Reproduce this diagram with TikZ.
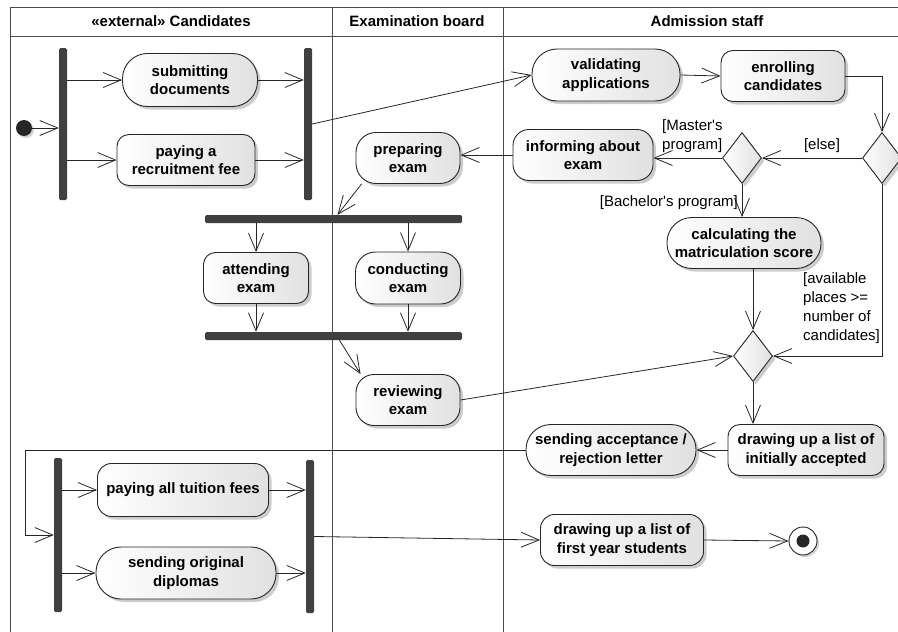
\documentclass[tikz,border=0pt]{standalone}
\usepackage{fontspec}
\setmainfont{Liberation Sans}[Ligatures=TeXOff]
\usetikzlibrary{arrows.meta, shapes.geometric, shadows}

\begin{document}
\begin{tikzpicture}[x=1pt, y=-1pt,
    flow/.style={draw=black!85, line width=0.8pt, -{Straight Barb[length=18pt, width=15pt, line width=0.8pt]}},
    act/.style={draw=black!85, line width=0.9pt, rounded corners=12pt, align=center, inner sep=0pt,
        font=\bfseries\fontsize{15}{18.5}\selectfont, left color=white, right color=black!12,
        drop shadow={shadow xshift=3pt, shadow yshift=-3pt, fill=black!40}},
    actround/.style={act, rounded corners=25pt},
    bar/.style={fill=black!75, rounded corners=1.5pt, inner sep=0pt},
    decision/.style={diamond, draw=black!85, line width=0.9pt, inner sep=0pt, minimum width=39pt, minimum height=51pt,
        left color=white, right color=black!12, drop shadow={shadow xshift=3pt, shadow yshift=-3pt, fill=black!40}},
    guard/.style={font=\fontsize{15}{19}\selectfont, inner sep=0pt},
    lane/.style={draw=black!70, line width=1pt},
    lanehead/.style={font=\bfseries\fontsize{15}{18}\selectfont}]
    \useasboundingbox (0,0) rectangle (898,632);

    \draw[lane] (10,632) -- (10,7) -- (911,7) -- (911,632);
    \draw[lane] (10,36) -- (911,36);
    \draw[lane] (332,7) -- (332,632);
    \draw[lane] (503,7) -- (503,632);
    \node[lanehead] (hcand) at (171,21) {«external» Candidates};
    \node[lanehead] (hboard) at (417,21) {Examination board};
    \node[lanehead] (hstaff) at (707,21) {Admission staff};

    \node[circle, fill=black!85, minimum size=16pt, inner sep=0pt, drop shadow={shadow xshift=2pt, shadow yshift=-2pt, fill=black!35}] (start) at (24,128) {};
    \node[bar, minimum width=8pt, minimum height=152pt] (fork1) at (63,124) {};
    \node[bar, minimum width=8pt, minimum height=152pt] (join1) at (308,124) {};
    \node[actround, minimum width=135pt, minimum height=53pt] (submit) at (190,80) {submitting\\documents};
    \node[act, minimum width=138pt, minimum height=51pt] (pay) at (186,160) {paying a\\recruitment fee};

    \node[actround, minimum width=148pt, minimum height=52pt] (valid) at (606,75) {validating\\applications};
    \node[act, minimum width=124pt, minimum height=51pt] (enrol) at (783,76) {enrolling\\candidates};
    \node[decision] (dec2) at (882,158) {};
    \node[decision] (dec1) at (742,158) {};
    \node[act, rounded corners=16pt, minimum width=140pt, minimum height=51pt] (inform) at (583,155) {informing about\\exam};
    \node[act, rounded corners=20pt, minimum width=104pt, minimum height=51pt] (prep) at (408,158) {preparing\\exam};
    \node[actround, minimum width=154pt, minimum height=51pt] (calc) at (744,243) {calculating the\\matriculation score};
    \node[decision] (dec3) at (753,356) {};

    \node[bar, minimum width=257pt, minimum height=8pt] (fork2) at (333.5,219) {};
    \node[bar, minimum width=257pt, minimum height=8pt] (join2) at (333.5,336) {};
    \node[act, minimum width=105pt, minimum height=51pt] (attend) at (256,278) {attending\\exam};
    \node[act, rounded corners=20pt, minimum width=105pt, minimum height=52pt] (conduct) at (408,278) {conducting\\exam};
    \node[act, rounded corners=18pt, minimum width=104pt, minimum height=51pt] (review) at (408,400) {reviewing\\exam};

    \node[actround, minimum width=170pt, minimum height=51pt] (send) at (611,450) {sending acceptance /\\rejection letter};
    \node[act, minimum width=156pt, minimum height=51pt] (init) at (806,450) {drawing up a list of\\initially accepted};

    \node[bar, minimum width=8pt, minimum height=154pt] (fork3) at (58,535) {};
    \node[bar, minimum width=8pt, minimum height=153pt] (join3) at (310,536.5) {};
    \node[act, rounded corners=14pt, minimum width=171pt, minimum height=53pt] (tuition) at (183,490) {paying all tuition fees};
    \node[actround, minimum width=180pt, minimum height=52pt] (diploma) at (186,573) {sending original\\diplomas};
    \node[act, rounded corners=14pt, minimum width=163pt, minimum height=51pt] (first) at (622,540) {drawing up a list of\\first year students};
    \node[circle, draw=black!85, line width=0.9pt, fill=white, minimum size=28pt, inner sep=0pt, drop shadow={shadow xshift=2pt, shadow yshift=-2pt, fill=black!35}] (final) at (803,541) {};
    \node[circle, fill=black!85, minimum size=13pt, inner sep=0pt] (finaldot) at (final) {};

    \draw[flow] (start) -- (start -| fork1.west);
    \draw[flow] (fork1.east |- submit) -- (submit.west);
    \draw[flow] (fork1.east |- pay) -- (pay.west);
    \draw[flow] (submit.east) -- (submit.east -| join1.west);
    \draw[flow] (pay.east) -- (pay.east -| join1.west);
    \draw[flow] (join1.east) -- (valid.west);
    \draw[flow] (valid.east) -- (enrol.west);
    \draw[flow] (enrol.east) -| (dec2.north);
    \draw[flow] (dec2.west) -- (dec1.east);
    \node[guard, anchor=south] (gelse) at (822,153) {[else]};
    \draw[flow] (dec1.west) -- (dec1.west -| inform.east);
    \node[guard, anchor=south west, align=left] (gmaster) at (662,153) {[Master's\\program]};
    \draw[flow] (inform.west) -- (inform.west -| prep.east);
    \draw[flow] ([xshift=6pt]prep.south west) -- ([xshift=4pt]fork2.north);
    \draw[flow] (dec1.south) -- (dec1.south |- calc.north);
    \node[guard, anchor=south east] (gbach) at (738,210) {[Bachelor's program]};
    \draw[flow] (calc.south -| dec3) -- (dec3.north);
    \draw[flow] (dec2.south) |- (dec3.east);
    \node[guard, anchor=north west, align=left] (gplaces) at (803,272) {[available\\places >=\\number of\\candidates]};

    \draw[flow] (fork2.south -| attend) -- (attend.north);
    \draw[flow] (fork2.south -| conduct) -- (conduct.north);
    \draw[flow] (attend.south) -- (attend.south |- join2.north);
    \draw[flow] (conduct.south) -- (conduct.south |- join2.north);
    \draw[flow] ([xshift=6pt]join2.south) -- ([xshift=5pt]review.north west);
    \draw[flow] (review.east) -- (dec3.west);
    \draw[flow] (dec3.south) -- (dec3.south |- init.north);
    \draw[flow] (init.west) -- (send.east);

    \draw[flow] (send.west) -| ([xshift=-28pt]fork3.west) -- (fork3.west);
    \draw[flow] (fork3.east |- tuition) -- (tuition.west);
    \draw[flow] (fork3.east |- diploma) -- (diploma.west);
    \draw[flow] (tuition.east) -- (tuition.east -| join3.west);
    \draw[flow] (diploma.east) -- (diploma.east -| join3.west);
    \draw[flow] (join3.east) -- (first.west);
    \draw[flow] (first.east) -- (final.west);
\end{tikzpicture}
\end{document}
